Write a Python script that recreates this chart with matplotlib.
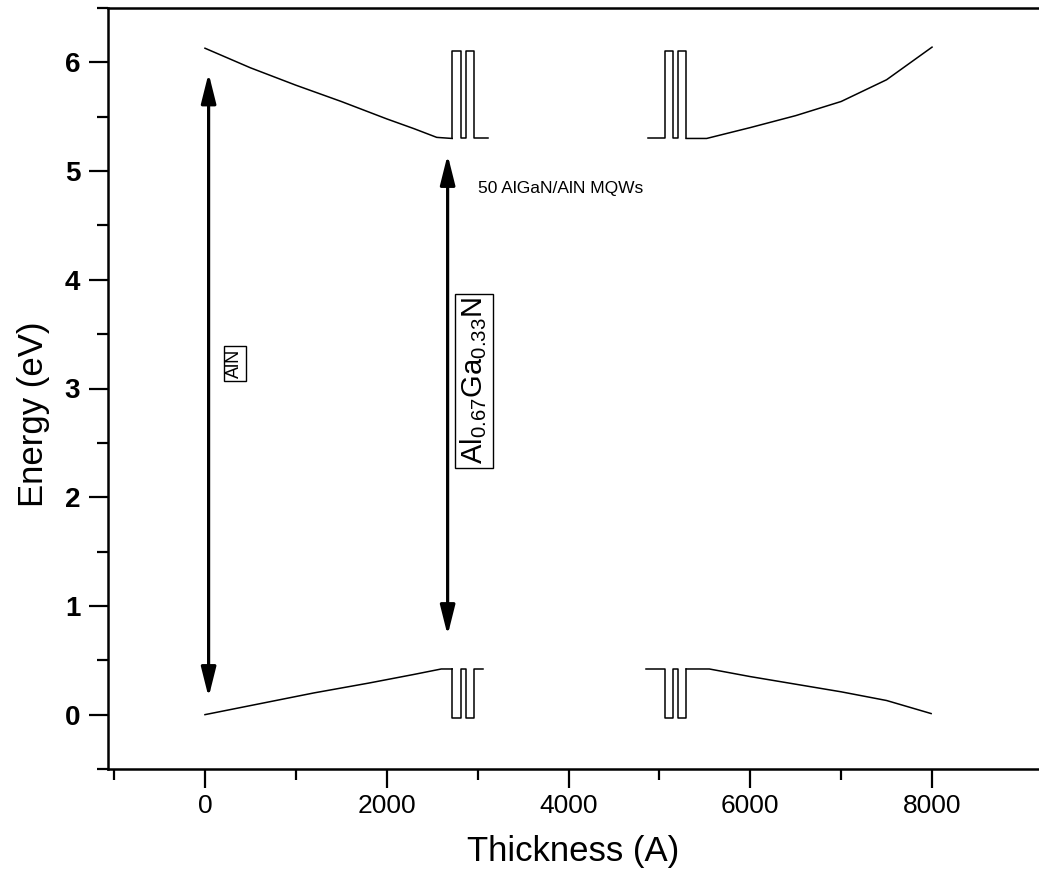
import matplotlib
matplotlib.use('Agg')
import matplotlib.pyplot as plt
from matplotlib.ticker import MultipleLocator, FixedLocator

plt.rcParams['font.family'] = ['Liberation Sans', 'DejaVu Sans']
plt.rcParams['mathtext.default'] = 'regular'

# graded layers (thickness in A, energy in eV)
grade_left_x = [0, 500, 1000, 1500, 2000, 2300, 2550, 2720]
grade_left_cb = [6.13, 5.95, 5.79, 5.64, 5.48, 5.39, 5.31, 5.30]
grade_left_x_vb = [0, 600, 1200, 1800, 2300, 2600, 2720]
grade_left_vb = [0.00, 0.10, 0.20, 0.29, 0.37, 0.42, 0.42]

grade_right_x = [5295, 5520, 6000, 6500, 7000, 7500, 8000]
grade_right_cb = [5.30, 5.30, 5.40, 5.51, 5.64, 5.84, 6.14]
grade_right_x_vb = [5295, 5550, 6000, 6500, 7000, 7500, 7990]
grade_right_vb = [0.42, 0.42, 0.35, 0.28, 0.21, 0.13, 0.01]

# first and last few periods of the MQW stack
barriers_left = [(2720, 2815), (2870, 2960)]
end_left = 3110
start_right = 4870
barriers_right = [(5060, 5150), (5205, 5295)]

well_cb, barrier_cb = 5.30, 6.10
well_vb, barrier_vb = 0.42, -0.03

# transitions marked with arrows: (x, low, high)
gap_aln = (40, 0.16, 5.90)
gap_algan = (2670, 0.73, 5.15)


def steps(x_start, barriers, x_end, low, high):
    xs, ys = [x_start], [low]
    for a, b in barriers:
        xs += [a, a, b, b]
        ys += [low, high, high, low]
    xs.append(x_end)
    ys.append(low)
    return xs, ys


fig = plt.figure(figsize=(10.39, 8.86), dpi=100)
ax = fig.add_axes([108 / 1039, 117 / 886, 931 / 1039, 761 / 886])

lc = dict(color='black', lw=1.1)
# left graded + wells
ax.plot(grade_left_x, grade_left_cb, **lc)
ax.plot(grade_left_x_vb, grade_left_vb, **lc)
x, y = steps(grade_left_x[-1], barriers_left, end_left, well_cb, barrier_cb)
ax.plot(x, y, **lc)
x, y = steps(grade_left_x[-1], barriers_left, end_left - 50, well_vb, barrier_vb)
ax.plot(x, y, **lc)
# right wells + graded
x, y = steps(start_right, barriers_right, grade_right_x[0], well_cb, barrier_cb)
ax.plot(x, y, **lc)
x, y = steps(start_right - 20, barriers_right, grade_right_x_vb[0], well_vb, barrier_vb)
ax.plot(x, y, **lc)
ax.plot(grade_right_x, grade_right_cb, **lc)
ax.plot(grade_right_x_vb, grade_right_vb, **lc)

arrow = dict(arrowstyle='<|-|>,head_length=1.2,head_width=0.3', color='black',
             lw=2.3, mutation_scale=15, shrinkA=0, shrinkB=0)
for gx, lo, hi in [gap_aln, gap_algan]:
    ax.annotate('', xy=(gx, hi), xytext=(gx, lo), arrowprops=arrow)

box = dict(boxstyle='square,pad=0.15', fc='white', ec='black', lw=1.0)
ax.text(330, 3.23, 'AlN', rotation=90, ha='center', va='center', fontsize=13, bbox=box)
ax.text(2960, 3.07, 'Al$_{0.67}$Ga$_{0.33}$N', rotation=90, ha='center', va='center',
        fontsize=21, bbox=dict(boxstyle='square,pad=0.12', fc='white', ec='black', lw=1.0))
ax.text(3004, 4.84, '50 AlGaN/AlN MQWs', ha='left', va='center', fontsize=12.5)

ax.set_xlim(-1067, 9177)
ax.set_ylim(-0.5, 6.5)
ax.xaxis.set_major_locator(MultipleLocator(2000))
ax.xaxis.set_minor_locator(FixedLocator([-1000, 1000, 3000, 5000, 7000]))
ax.yaxis.set_major_locator(MultipleLocator(1))
ax.yaxis.set_minor_locator(MultipleLocator(0.5))
ax.tick_params(which='both', direction='out', width=1.6, top=False, right=False)
ax.tick_params(which='major', length=14)
ax.tick_params(which='minor', length=8)
ax.tick_params(axis='x', labelsize=19, pad=4)
ax.tick_params(axis='y', labelsize=20, pad=6)
for lab in ax.get_yticklabels():
    lab.set_fontweight('bold')

for s in ['left', 'bottom', 'top']:
    ax.spines[s].set_linewidth(1.8)
ax.spines['right'].set_visible(False)

ax.set_xlabel('Thickness (A)', fontsize=25, labelpad=12)
ax.set_ylabel('Energy (eV)', fontsize=25)
ax.yaxis.set_label_coords(-0.062, 0.466)

fig.savefig('out.png', dpi=100)
